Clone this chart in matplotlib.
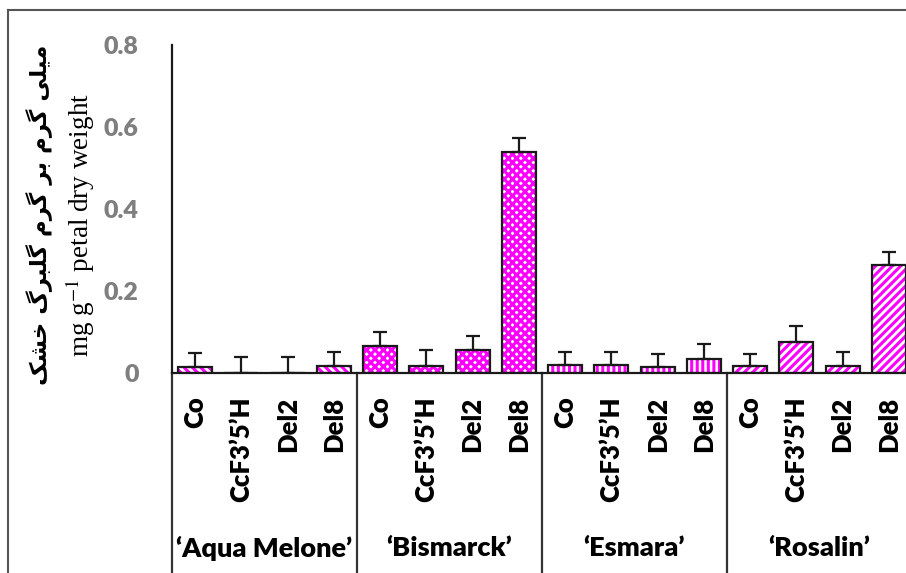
import matplotlib
matplotlib.use("Agg")
import matplotlib.pyplot as plt
import numpy as np
from matplotlib.lines import Line2D

groups = ["‘Aqua Melone’", "‘Bismarck’", "‘Esmara’", "‘Rosalin’"]
treatments = ["Co", "CcF3’5’H", "Del2", "Del8"]
aqua = [0.015, 0.0, 0.0, 0.017]
aqua_err = [0.034, 0.04, 0.04, 0.034]
bismarck = [0.066, 0.017, 0.056, 0.539]
bismarck_err = [0.034, 0.039, 0.034, 0.034]
esmara = [0.02, 0.02, 0.015, 0.034]
esmara_err = [0.031, 0.031, 0.031, 0.037]
rosalin = [0.017, 0.076, 0.017, 0.263]
rosalin_err = [0.029, 0.039, 0.034, 0.032]
yticks = [0, 0.2, 0.4, 0.6, 0.8]
ytick_labels = ["0", "0.2", "0.4", "0.6", "0.8"]

# Persian label, shaped manually into presentation forms (visual order)
persian_logical = "میلی گرم بر گرم گلبرگ خشک"
shaped_words = [
    "\uFEE3\uFBFF\uFEE0\uFBFD",          # میلی
    "\uFB94\uFEAE\uFEE1",                # گرم
    "\uFE91\uFEAE",                      # بر
    "\uFB94\uFEAE\uFEE1",                # گرم
    "\uFB94\uFEE0\uFE92\uFEAE\uFB92",    # گلبرگ
    "\uFEA7\uFEB8\uFB8F",                # خشک
]
persian_visual = " ".join(shaped_words)[::-1]

series = [aqua, bismarck, esmara, rosalin]
errs = [aqua_err, bismarck_err, esmara_err, rosalin_err]
hatches = ["\\\\\\\\", "xxxx", "|||", "////"]

W, H = 906, 573
fig = plt.figure(figsize=(W / 100, H / 100), dpi=100)
ax = fig.add_axes([172 / W, 200 / H, 740 / W, 328 / H])

magenta = "#FF00FF"
plt.rcParams["hatch.linewidth"] = 2.2
bw = 0.73
for gi, (vals, er, hat) in enumerate(zip(series, errs, hatches)):
    x = np.arange(4) + gi * 4
    ax.bar(x, vals, width=bw, color="white", edgecolor=magenta, hatch=hat,
           linewidth=0, zorder=2)
    ax.bar(x, vals, width=bw, fill=False, edgecolor="#1a1a1a", linewidth=1.6,
           zorder=3)
    ax.errorbar(x, vals, yerr=[np.zeros(4), er], fmt="none", ecolor="#1a1a1a",
                elinewidth=1.6, capsize=5, capthick=1.6, zorder=4)

ax.set_xlim(-0.5, 15.5)
ax.set_ylim(0, 0.8)
ax.set_yticks(yticks)
ax.set_yticklabels(ytick_labels, fontsize=18, fontweight="heavy",
                   color="#7f7f7f", family="Lato")
ax.tick_params(axis="y", length=0, pad=24)
ax.tick_params(axis="x", length=0)
ax.set_xticks(range(16))
ax.set_xticklabels(treatments * 4, rotation=90, fontsize=18.5,
                   fontweight="heavy", family="Lato", va="top", ha="center")
ax.tick_params(axis="x", pad=17)
for s in ["top", "right"]:
    ax.spines[s].set_visible(False)
for s in ["left", "bottom"]:
    ax.spines[s].set_color("#1a1a1a")
    ax.spines[s].set_linewidth(1.6)

trans = ax.get_xaxis_transform()
for xs in [-0.5, 3.5, 7.5, 11.5, 15.5]:
    ax.add_line(Line2D([xs, xs], [0, -0.65], transform=trans, color="#333333",
                       linewidth=1.6, clip_on=False))
for gi, g in enumerate(groups):
    ax.text(gi * 4 + 1.5, -0.535, g, transform=trans, ha="center",
            va="center", fontsize=19.5, fontweight="heavy", family="Lato")

fig.text(40 / W, 1 - 215 / H, persian_visual, rotation=90, ha="center",
         va="center", fontsize=16.5, fontweight="bold", family=["DejaVu Sans"])
fig.text(80 / W, 1 - 225 / H, r"mg g$^{-1}$ petal dry weight", rotation=90,
         ha="center", va="center", fontsize=19.5, family="Liberation Serif",
         math_fontfamily="stix")

# outer frame
fig.add_artist(Line2D([8 / W, 8 / W], [0, 1 - 10 / H], color="#555555",
                      linewidth=1.5, transform=fig.transFigure))
fig.add_artist(Line2D([8 / W, 1], [1 - 10 / H, 1 - 10 / H], color="#555555",
                      linewidth=1.5, transform=fig.transFigure))

fig.savefig("out.png", dpi=100)
